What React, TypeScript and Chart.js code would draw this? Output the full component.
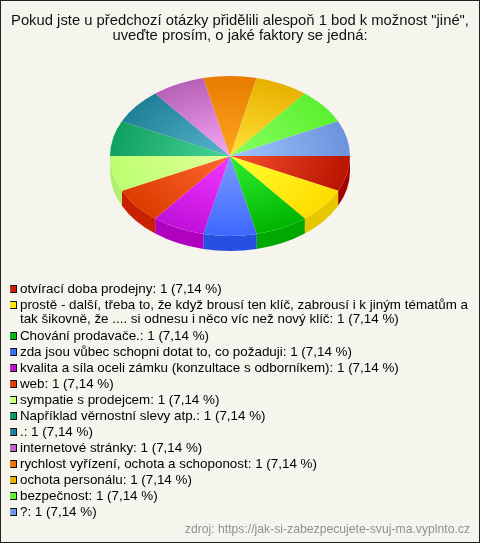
import React, { useEffect, useRef } from "react";
import { Chart, registerables } from "chart.js";

Chart.register(...registerables);

const FONT = "'Liberation Sans', Arial, sans-serif";

const titleLines = [
  'Pokud jste u předchozí otázky přidělili alespoň 1 bod k možnost "jiné",',
  "uveďte prosím, o jaké faktory se jedná:",
];
const sourceText = "zdroj: https://jak-si-zabezpecujete-svuj-ma.vyplnto.cz";

const categories = [
  "otvírací doba prodejny",
  "prostě - další, třeba to, že když brousí ten klíč, zabrousí i k jiným tématům a\ntak šikovně, že .... si odnesu i něco víc než nový klíč",
  "Chování prodavače.",
  "zda jsou vůbec schopni dotat to, co požaduji",
  "kvalita a síla oceli zámku (konzultace s odborníkem)",
  "web",
  "sympatie s prodejcem",
  "Například věrnostní slevy atp.",
  ".",
  "internetové stránky",
  "rychlost vyřízení, ochota a schoponost",
  "ochota personálu",
  "bezpečnost",
  "?",
];
const counts = [1, 1, 1, 1, 1, 1, 1, 1, 1, 1, 1, 1, 1, 1];
const percents = ["7,14", "7,14", "7,14", "7,14", "7,14", "7,14", "7,14", "7,14", "7,14", "7,14", "7,14", "7,14", "7,14", "7,14"];

const legendColors = ["#c82008", "#ffe600", "#00b818", "#3c6cf0", "#c010d0", "#e04008", "#c8ff80", "#109860", "#207f98", "#c060c0", "#e87800", "#e8b000", "#60f030", "#7098e0"];
const innerColors = ["#f85030", "#ffff30", "#30f030", "#7c9cff", "#f438ff", "#ff6830", "#e4ff98", "#48d498", "#58b4cc", "#f4a8f4", "#ffa420", "#ffe438", "#88ff60", "#a0c4ff"];
const rimColors = ["#b81400", "#ffdc00", "#00b400", "#3c68ff", "#c010dc", "#dc3c00", "#bcff70", "#10a060", "#208098", "#b860b8", "#e87c00", "#e8b000", "#5cf030", "#6c94dc"];
const wallColors = ["#a00000", "#e6c800", "#00a800", "#2850e0", "#b000c0", "#c82000", "#b0f070"];

const TILT = 2 / 3;
const DEPTH = 15;

const pagePlugin = {
  id: "page",
  beforeDraw(chart: any) {
    const { ctx, width, height } = chart;
    ctx.save();
    ctx.fillStyle = "#f5f5ee";
    ctx.fillRect(0, 0, width, height);
    ctx.strokeStyle = "#222222";
    ctx.lineWidth = 1;
    ctx.strokeRect(0.5, 0.5, width - 1, height - 1);
    ctx.restore();
  },
};

const placementPlugin = {
  id: "placement",
  afterLayout(chart: any) {
    chart.chartArea = { left: 110, top: 36, right: 350, bottom: 276, width: 240, height: 240 };
    const legend = chart.legend;
    legend.left = 10.15;
    legend.right = 475;
    legend.top = 279.7;
    legend.bottom = 540;
    legend.width = 464;
    legend.height = 260;
  },
};

const tiltPlugin = {
  id: "tilt",
  beforeDatasetDraw(chart: any, args: any) {
    const { ctx } = chart;
    const arcs = args.meta.data;
    arcs.forEach((arc: any, i: number) => {
      const { x, y, startAngle, endAngle, outerRadius } = arc.getProps(["x", "y", "startAngle", "endAngle", "outerRadius"], true);
      if (startAngle >= Math.PI - 1e-6) return;
      const end = Math.min(endAngle, Math.PI);
      ctx.save();
      ctx.fillStyle = wallColors[i % wallColors.length];
      ctx.beginPath();
      ctx.ellipse(x, y, outerRadius, outerRadius * TILT, 0, startAngle, end);
      ctx.ellipse(x, y + DEPTH, outerRadius, outerRadius * TILT, 0, end, startAngle, true);
      ctx.closePath();
      ctx.fill();
      ctx.restore();
    });
    const a = chart.chartArea;
    const cx = (a.left + a.right) / 2;
    const cy = (a.top + a.bottom) / 2;
    ctx.save();
    ctx.translate(cx, cy);
    ctx.scale(1, TILT);
    ctx.translate(-cx, -cy);
  },
  afterDatasetDraw(chart: any) {
    chart.ctx.restore();
  },
};

const sliceFill = (c: any) => {
  const a = c.chart.chartArea;
  if (!a) return innerColors[c.dataIndex];
  const cx = (a.left + a.right) / 2;
  const cy = (a.top + a.bottom) / 2;
  const g = c.chart.ctx.createRadialGradient(cx, cy, 0, cx, cy, (a.right - a.left) / 2);
  g.addColorStop(0, innerColors[c.dataIndex]);
  g.addColorStop(1, rimColors[c.dataIndex]);
  return g;
};

const legendText = (i: number) => {
  const lines = `${categories[i]}: ${counts[i]} (${percents[i]} %)`.split("\n");
  return lines.length > 1 ? lines : lines[0];
};

// Legend marker: an 8x8 swatch with a dark outline, so that the text can sit closer to it.
const marker = (color: string) => {
  const c = document.createElement("canvas");
  c.width = 8;
  c.height = 8;
  const g = c.getContext("2d")!;
  g.fillStyle = color;
  g.fillRect(0, 0, 8, 8);
  g.strokeStyle = "#111111";
  g.lineWidth = 1;
  g.strokeRect(0.5, 0.5, 7, 7);
  return c;
};

export default function App() {
  const ref = useRef<HTMLCanvasElement>(null);
  useEffect(() => {
    document.body.style.margin = "0";
    const chart = new Chart(ref.current!, {
      type: "pie",
      data: {
        labels: categories,
        datasets: [{ data: counts, backgroundColor: sliceFill, borderWidth: 0, clip: false } as any],
      },
      plugins: [pagePlugin, placementPlugin, tiltPlugin],
      options: {
        responsive: false,
        animation: false,
        rotation: 90,
        layout: { padding: { left: 10, right: 10, top: 0, bottom: 7 } },
        plugins: {
          tooltip: { enabled: false },
          title: {
            display: true,
            text: titleLines,
            color: "#111111",
            font: { family: FONT, size: 14.8, weight: "normal", lineHeight: "15px" },
            padding: { top: 13, bottom: 4 },
          },
          subtitle: {
            display: true,
            position: "bottom",
            align: "end",
            text: sourceText,
            color: "#909090",
            font: { family: FONT, size: 12.2, weight: "normal", lineHeight: "13px" },
            padding: 0,
          },
          legend: {
            display: true,
            position: "chartArea",
            align: "start",
            labels: {
              usePointStyle: true,
              pointStyleWidth: 0.5,
              boxHeight: 8,
              padding: 2.6,
              color: "#111111",
              font: { family: FONT, size: 13.4, lineHeight: "14.2px" },
              generateLabels: () =>
                categories.map((_, i) => ({
                  text: legendText(i),
                  pointStyle: marker(legendColors[i]),
                  fillStyle: legendColors[i],
                  hidden: false,
                  index: i,
                })),
            },
          },
        },
      } as any,
    });
    return () => chart.destroy();
  }, []);
  return <canvas ref={ref} width={480} height={543} style={{ display: "block", width: 480, height: 543 }} />;
}
